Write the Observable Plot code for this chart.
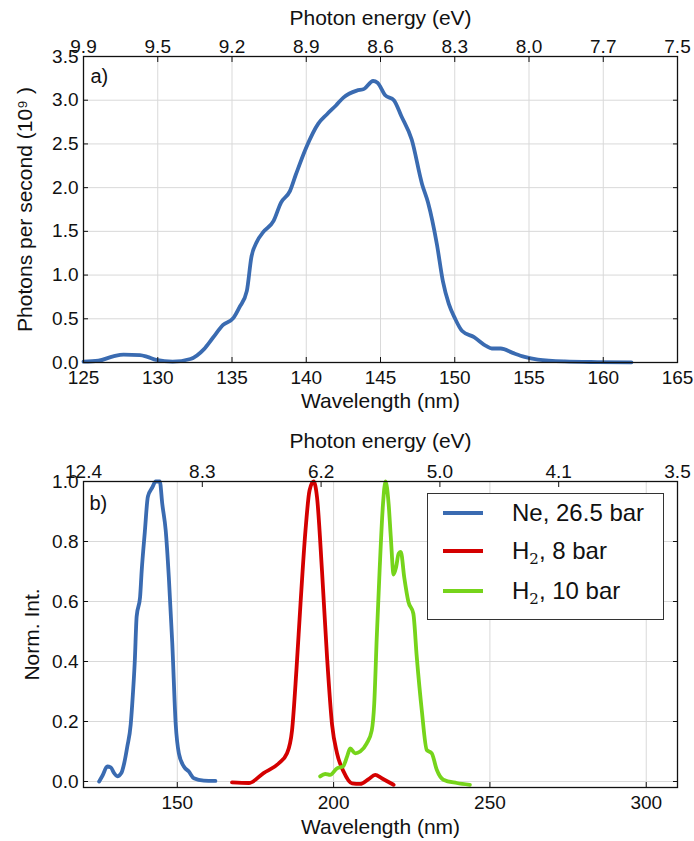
<!DOCTYPE html>
<html>
<head>
<meta charset="utf-8">
<script src="https://cdn.jsdelivr.net/npm/d3@7"></script>
<script src="https://cdn.jsdelivr.net/npm/@observablehq/plot@0.6"></script>
<style>
  body { margin: 0; background: #fff; font-family: "Liberation Sans", Arial, sans-serif; }
  #wrap { position: relative; width: 694px; height: 841px; background: #fff; }
  #wrap svg { display: block; }
  .legend { position: absolute; left: 427px; top: 493px; width: 237px; height: 127px;
            border: 1.5px solid #333; background: #fff; box-sizing: border-box; }
  .legend .row { position: absolute; left: 0; height: 30px; width: 100%; }
  .legend .sw { position: absolute; left: 15px; width: 40px; height: 4px; top: 13px; }
  .legend .lb { position: absolute; left: 84px; top: 0; font-size: 24px; line-height: 30px; color: #111; white-space: nowrap; }
  .legend sub { font-family: "DejaVu Serif", serif; font-size: 15px; vertical-align: -5px; line-height: 0; }
</style>
</head>
<body>
<div id="wrap"></div>
<script>
// ---------- Panel a data ----------
const wavelengthA = [125.0,126.0,127.0,127.7,128.8,129.3,129.9,131.0,132.2,133.1,133.7,134.4,135.1,135.5,136.0,136.3,136.7,137.1,137.8,138.3,138.9,139.3,140.0,140.8,141.4,142.0,142.5,143.4,143.9,144.5,144.8,145.3,145.9,146.4,147.1,147.8,148.2,148.8,149.2,149.6,150.0,150.5,151.3,152.1,152.5,153.1,153.9,154.7,155.6,157.4,159.6,161.9];
const photonsA    = [0.01,0.02,0.07,0.09,0.085,0.065,0.03,0.01,0.04,0.15,0.28,0.43,0.51,0.63,0.82,1.20,1.39,1.49,1.62,1.83,1.96,2.15,2.46,2.73,2.84,2.94,3.03,3.11,3.13,3.22,3.20,3.06,3.00,2.82,2.55,2.04,1.83,1.35,0.93,0.67,0.51,0.36,0.29,0.19,0.16,0.16,0.11,0.065,0.034,0.012,0.005,0.002];
const xTicksA = [125,130,135,140,145,150,155,160,165];
const yTicksA = [0,0.5,1,1.5,2,2.5,3,3.5];
const energyLabelsA = ["9.9","9.5","9.2","8.9","8.6","8.3","8.0","7.7","7.5"];

// ---------- Panel b data ----------
const neWl  = [125.0,126.1,127.6,128.7,129.8,130.8,132.1,133.0,134.0,135.1,135.6,136.4,137.0,138.1,138.6,139.6,140.6,142.0,143.1,144.4,145.2,146.3,147.3,148.4,149.5,150.5,152.1,153.7,155.3,158.5,162.2];
const neInt = [0.0,0.02,0.05,0.047,0.028,0.017,0.028,0.06,0.116,0.19,0.26,0.40,0.55,0.615,0.70,0.83,0.95,0.98,1.0,1.0,0.925,0.836,0.68,0.46,0.19,0.094,0.05,0.033,0.011,0.003,0.002];
const h2aWl  = [167.5,172.9,177.6,182.4,185.1,186.7,188.1,189.4,191.0,192.3,193.6,194.7,196.3,197.9,199.5,201.1,203.2,205.9,208.5,211.2,213.3,215.4,219.2];
const h2aInt = [-0.003,-0.005,0.028,0.06,0.094,0.17,0.37,0.59,0.836,0.97,1.0,0.947,0.70,0.415,0.19,0.094,0.033,-0.006,-0.008,0.008,0.022,0.011,-0.011];
const h2bWl  = [195.7,197.3,198.9,201.1,203.0,204.3,205.3,206.9,208.5,210.6,212.2,213.0,213.8,214.7,215.8,216.6,217.6,218.3,219.2,220.0,220.8,221.5,222.6,223.9,225.5,226.6,228.2,229.8,231.4,233.0,235.1,239.4,243.6];
const h2bInt = [0.017,0.025,0.022,0.044,0.05,0.083,0.11,0.094,0.10,0.127,0.17,0.26,0.48,0.70,0.925,1.0,0.925,0.814,0.69,0.715,0.76,0.765,0.68,0.60,0.56,0.415,0.238,0.105,0.094,0.039,0.006,-0.005,-0.011];
const seriesNames  = ["Ne, 26.5 bar", "H2, 8 bar", "H2, 10 bar"];
const seriesColors = ["#3a6bb1", "#d40000", "#76d41b"];
const xTicksB = [150,200,250,300];
const yTicksB = [0,0.2,0.4,0.6,0.8,1.0];
const topWlB = [100,150,200,250,300,350];   // secondary (top) axis range 100–350
const energyLabelsB = ["12.4","8.3","6.2","5.0","4.1","3.5"];

// ---------- shared styling ----------
const FONT = '"Liberation Sans", Arial, sans-serif';
const GRID = "#d9d9d9";
const TICKFS = 19;
const wrap = document.getElementById("wrap");

function frameTicks(xt, yt, topTicks) {
  return [
    Plot.axisX({anchor: "bottom", ticks: xt, tickSize: 5, dy: -5, tickFormat: () => "", label: null}),
    Plot.axisX({anchor: "top", ticks: topTicks, tickSize: 5, dy: 5, tickFormat: () => "", label: null}),
    Plot.axisY({anchor: "left", ticks: yt, tickSize: 5, dx: 5, tickFormat: () => "", label: null}),
    Plot.axisY({anchor: "right", ticks: yt, tickSize: 5, dx: -5, tickFormat: () => "", label: null})
  ];
}

// ---------- Panel a ----------
const dataA = wavelengthA.map((w, i) => ({w, v: photonsA[i]}));
const topMapA = new Map(xTicksA.map((t, i) => [t, energyLabelsA[i]]));
const plotA = Plot.plot({
  width: 694, height: 420,
  marginTop: 56, marginBottom: 58, marginLeft: 83, marginRight: 17,
  x: {domain: [125, 165]},
  y: {domain: [0, 3.5]},
  style: {fontFamily: FONT, fontSize: "19px", color: "#111", background: "white", overflow: "visible"},
  marks: [
    Plot.gridX({ticks: xTicksA, stroke: GRID, strokeOpacity: 1}),
    Plot.gridY({ticks: yTicksA, stroke: GRID, strokeOpacity: 1}),
    Plot.line(dataA, {x: "w", y: "v", stroke: seriesColors[0], strokeWidth: 3.8, curve: "monotone-x"}),
    Plot.frame({stroke: "#111", strokeWidth: 1.3}),
    ...frameTicks(xTicksA, yTicksA, xTicksA),
    Plot.axisX({anchor: "bottom", ticks: xTicksA, tickSize: 0, tickPadding: 8, tickFormat: d => String(d), label: null, fontSize: TICKFS}),
    Plot.axisX({anchor: "top", ticks: xTicksA, tickSize: 0, tickPadding: 4, tickFormat: d => topMapA.get(d), label: null, fontSize: TICKFS}),
    Plot.axisY({anchor: "left", ticks: yTicksA, tickSize: 0, tickPadding: 5, tickFormat: d => d.toFixed(1), label: null, fontSize: TICKFS}),
    Plot.text(["Photon energy (eV)"], {frameAnchor: "top", dy: -38, lineAnchor: "middle", fontSize: 21, fill: "#111"}),
    Plot.text(["Wavelength (nm)"], {frameAnchor: "bottom", dy: 39, lineAnchor: "middle", fontSize: 21, fill: "#111"}),
    Plot.text(["Photons per second (10⁹ )"], {frameAnchor: "left", dx: -58, rotate: -90, textAnchor: "middle", lineAnchor: "middle", fontSize: 21, fill: "#111"}),
    Plot.text(["a)"], {frameAnchor: "top-left", dx: 7, dy: 20, textAnchor: "start", lineAnchor: "middle", fontSize: 20, fill: "#111"})
  ]
});
wrap.appendChild(plotA);

// ---------- Panel b ----------
const xDomB = [120, 310];
const topPos = topWlB.map(t => xDomB[0] + (t - topWlB[0]) * (xDomB[1] - xDomB[0]) / (topWlB[topWlB.length - 1] - topWlB[0]));
const topMapB = new Map(topPos.map((p, i) => [p, energyLabelsB[i]]));
const dataB = [
  ...neWl.map((w, i) => ({w, v: neInt[i], s: seriesNames[0]})),
  ...h2aWl.map((w, i) => ({w, v: h2aInt[i], s: seriesNames[1]})),
  ...h2bWl.map((w, i) => ({w, v: h2bInt[i], s: seriesNames[2]}))
];
const plotB = Plot.plot({
  width: 694, height: 421,
  marginTop: 61, marginBottom: 54, marginLeft: 83, marginRight: 17,
  x: {domain: xDomB},
  y: {domain: [-0.02, 1.0]},
  color: {domain: seriesNames, range: seriesColors},
  style: {fontFamily: FONT, fontSize: "19px", color: "#111", background: "white", overflow: "visible"},
  marks: [
    Plot.gridX({ticks: xTicksB, stroke: GRID, strokeOpacity: 1}),
    Plot.gridY({ticks: yTicksB, stroke: GRID, strokeOpacity: 1}),
    Plot.line(dataB, {x: "w", y: "v", z: "s", stroke: "s", strokeWidth: 3.8, curve: "monotone-x"}),
    Plot.frame({stroke: "#111", strokeWidth: 1.3}),
    ...frameTicks(xTicksB, yTicksB, topPos),
    Plot.axisX({anchor: "bottom", ticks: xTicksB, tickSize: 0, tickPadding: 8, tickFormat: d => String(d), label: null, fontSize: TICKFS}),
    Plot.axisX({anchor: "top", ticks: topPos, tickSize: 0, tickPadding: 4, tickFormat: d => topMapB.get(d), label: null, fontSize: TICKFS}),
    Plot.axisY({anchor: "left", ticks: yTicksB, tickSize: 0, tickPadding: 5, tickFormat: d => d.toFixed(1), label: null, fontSize: TICKFS}),
    Plot.text(["Photon energy (eV)"], {frameAnchor: "top", dy: -40, lineAnchor: "middle", fontSize: 21, fill: "#111"}),
    Plot.text(["Wavelength (nm)"], {frameAnchor: "bottom", dy: 40, lineAnchor: "middle", fontSize: 21, fill: "#111"}),
    Plot.text(["Norm. Int."], {frameAnchor: "left", dx: -51, rotate: -90, textAnchor: "middle", lineAnchor: "middle", fontSize: 21, fill: "#111"}),
    Plot.text(["b)"], {frameAnchor: "top-left", dx: 6, dy: 22, textAnchor: "start", lineAnchor: "middle", fontSize: 20, fill: "#111"})
  ]
});
wrap.appendChild(plotB);

// ---------- Legend (panel b) ----------
const legend = document.createElement("div");
legend.className = "legend";
const rowTops = [4, 42, 82];
seriesNames.forEach((name, i) => {
  const row = document.createElement("div");
  row.className = "row";
  row.style.top = rowTops[i] + "px";
  const sw = document.createElement("div");
  sw.className = "sw";
  sw.style.background = seriesColors[i];
  const lb = document.createElement("div");
  lb.className = "lb";
  if (name.startsWith("H2")) {
    lb.innerHTML = "H<sub>2</sub>" + name.slice(2);
  } else {
    lb.textContent = name;
  }
  row.appendChild(sw);
  row.appendChild(lb);
  legend.appendChild(row);
});
wrap.appendChild(legend);
</script>
</body>
</html>
